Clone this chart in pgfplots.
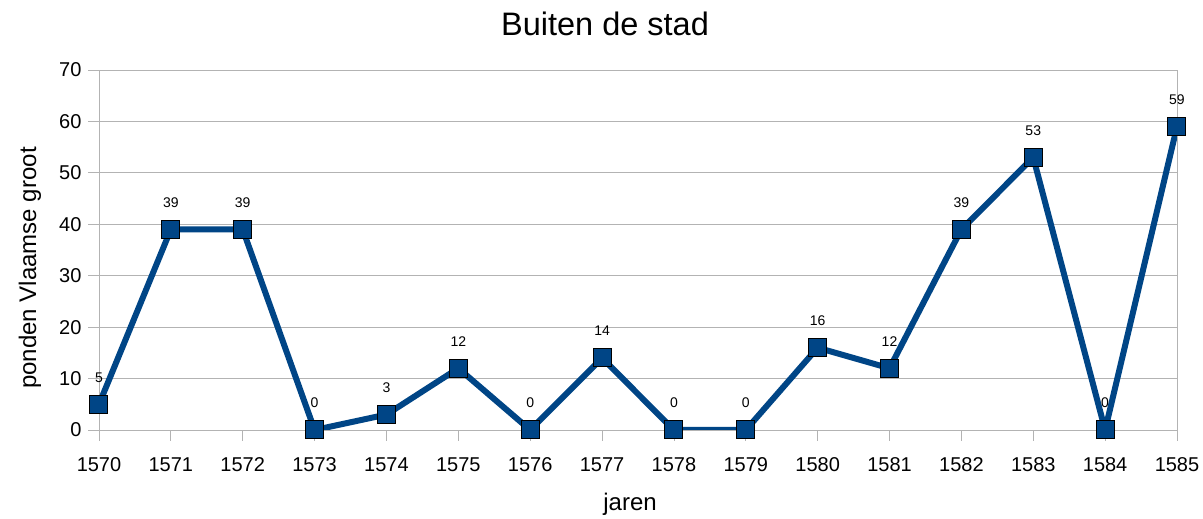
\documentclass[border=0pt]{standalone}
\usepackage{pgfplots}
\pgfplotsset{compat=1.18}
\usepackage{fontspec}
\setmainfont{Liberation Sans}
\definecolor{serie}{HTML}{004586}
\definecolor{gridc}{HTML}{B3B3B3}
\begin{document}
\begin{tikzpicture}
\useasboundingbox (-99pt,-89pt) rectangle (1104pt,430pt);
\begin{axis}[
  at={(0pt,0pt)}, anchor=south west,
  scale only axis,
  width=1078pt, height=360pt,
  xmin=1570, xmax=1585, ymin=0, ymax=70,
  xtick={1570,1571,...,1585},
  ytick={0,10,...,70},
  /pgf/number format/1000 sep={},
  /pgf/number format/assume math mode=true,
  ymajorgrids,
  grid style={gridc, line width=0.8pt},
  axis line style={gridc, line width=0.8pt},
  every tick/.style={gridc, line width=0.8pt},
  tick align=outside,
  major tick length=11pt,
  xtick pos=bottom, ytick pos=left,
  ticklabel style={font=\fontsize{20}{24}\selectfont, text=black},
  xticklabel style={yshift=-13pt},
  yticklabel style={xshift=-3pt},
  title={Buiten de stad},
  title style={at={(axis description cs:0.4694,1.111)}, anchor=center, font=\fontsize{32.5}{38}\selectfont},
  xlabel={jaren},
  xlabel style={at={(axis description cs:0.4926,-0.205)}, anchor=center, font=\fontsize{24}{28}\selectfont},
  ylabel={ponden Vlaamse groot},
  ylabel style={at={(axis description cs:-0.064,0.45)}, anchor=center, font=\fontsize{24}{28}\selectfont},
  nodes near coords,
  every node near coord/.append style={font=\fontsize{14}{16}\selectfont, text=black, anchor=center, inner sep=0pt, yshift=27pt},
]
\addplot[serie, line width=6pt, mark=square*, mark size=9pt,
  mark options={fill=serie, draw=black, line width=1pt}]
  coordinates {
  (1570,5) (1571,39) (1572,39) (1573,0) (1574,3) (1575,12) (1576,0) (1577,14)
  (1578,0) (1579,0) (1580,16) (1581,12) (1582,39) (1583,53) (1584,0) (1585,59)
  };
\end{axis}
\end{tikzpicture}
\end{document}
